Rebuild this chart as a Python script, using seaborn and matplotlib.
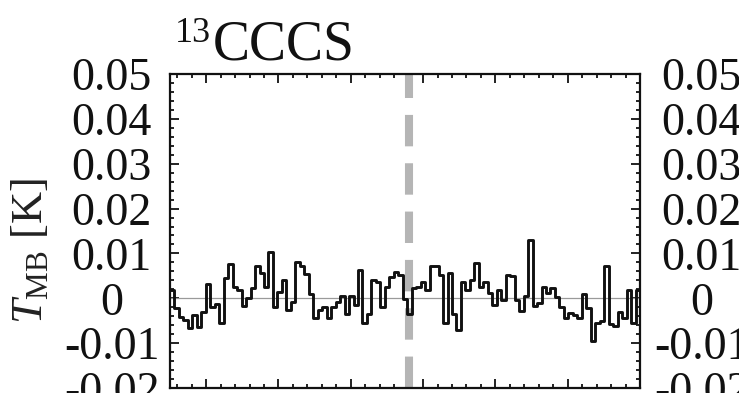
import numpy as np
import pandas as pd
import matplotlib
matplotlib.use("Agg")
import matplotlib.pyplot as plt
import seaborn as sns
from matplotlib.ticker import MultipleLocator, FixedLocator, FixedFormatter

# ---------------- data ----------------
# antenna temperature per channel [K] (left to right)
t_mb = [0.0019, -0.0022, -0.0041, -0.0049, -0.0067, -0.0037, -0.0063, -0.0030,
        0.0032, -0.0019, -0.0013, -0.0054, 0.0045, 0.0077, 0.0026, 0.0019,
        -0.0017, 0.0000, 0.0022, 0.0071, 0.0056, 0.0026, 0.0103, -0.0019,
        0.0013, 0.0041, -0.0026, -0.0009, 0.0081, 0.0071, 0.0054, 0.0009,
        -0.0043, -0.0025, -0.0019, -0.0043, -0.0019, -0.0009, 0.0004, -0.0035,
        0.0005, -0.0015, 0.0063, -0.0054, -0.0034, 0.0041, 0.0037, -0.0019,
        0.0026, 0.0047, 0.0059, 0.0052, -0.0002, -0.0035, 0.0022, 0.0026,
        0.0036, 0.0019, 0.0071, 0.0071, 0.0052, -0.0056, 0.0056, -0.0034,
        -0.0071, 0.0037, 0.0019, 0.0041, 0.0078, 0.0026, 0.0037, 0.0011,
        -0.0015, 0.0019, -0.0004, 0.0052, 0.0049, -0.0004, -0.0028, 0.0004,
        0.0131, -0.0017, -0.0010, 0.0026, 0.0011, 0.0022, 0.0002, -0.0019,
        -0.0045, -0.0032, -0.0037, -0.0045, 0.0009, -0.0022, -0.0096, -0.0054,
        -0.0051, 0.0071, -0.0057, -0.0061, -0.0031, -0.0045, 0.0019, -0.0056,
        0.0019]
v_start = -25.0          # velocity of the first channel edge
v_end = 40.0             # velocity of the last channel edge
v_line = 8.0             # systemic velocity marker
y_ticks = [-0.02, -0.01, 0.0, 0.01, 0.02, 0.03, 0.04, 0.05]
y_tick_labels = ["-0.02", "-0.01", "0", "0.01", "0.02", "0.03", "0.04", "0.05"]
title_iso = "13"
title_mol = "CCCS"

# ---------------- style ----------------
sns.set_theme(style="white")
plt.rcParams["font.family"] = ["Liberation Serif", "DejaVu Serif"]
plt.rcParams["mathtext.fontset"] = "custom"
plt.rcParams["mathtext.rm"] = "Liberation Serif"
plt.rcParams["mathtext.it"] = "Liberation Serif:italic"
plt.rcParams["axes.unicode_minus"] = False

W, H, DPI = 739, 393, 100
fig = plt.figure(figsize=(W / DPI, H / DPI), dpi=DPI)

def px2fig(x0, y0, x1, y1):
    return [x0 / W, 1 - y1 / H, (x1 - x0) / W, (y1 - y0) / H]

ax = fig.add_axes(px2fig(170, 74, 640, 388))

n = len(t_mb)
dv = (v_end - v_start) / n
edges = v_start + dv * np.arange(n + 1)
df = pd.DataFrame({"v": edges, "T": list(t_mb) + [t_mb[-1]]})

ax.axhline(0, color="#9a9a9a", lw=0.9, zorder=1)
ax.axvline(v_line, color="#b5b5b5", lw=5.8, dashes=(3.9, 2.1),
           solid_capstyle="butt", dash_capstyle="butt", zorder=2)
sns.lineplot(data=df, x="v", y="T", ax=ax, drawstyle="steps-post",
             color="#111111", lw=2.1, estimator=None, sort=False, zorder=3)

ax.set_xlim(v_start, v_end)
ax.set_ylim(-0.02, 0.05)
ax.xaxis.set_major_locator(MultipleLocator(10))
ax.xaxis.set_minor_locator(MultipleLocator(2))
ax.yaxis.set_major_locator(FixedLocator(y_ticks))
ax.yaxis.set_major_formatter(FixedFormatter(y_tick_labels))
ax.yaxis.set_minor_locator(MultipleLocator(0.002))
ax.set_xlabel("")
ax.set_ylabel("")
for s in ax.spines.values():
    s.set_visible(True)
    s.set_color("#111111")
    s.set_linewidth(1.6)
ax.tick_params(which="both", direction="in", top=True, right=True,
               bottom=True, left=True, color="#111111", width=1.3,
               labelbottom=False, labeltop=False)
ax.tick_params(which="major", length=6.5)
ax.tick_params(which="minor", length=3.2)
ax.tick_params(axis="y", which="major", labelsize=33, pad=42, labelcolor="#111111")
for lab in ax.get_yticklabels():
    lab.set_horizontalalignment("center")

# neighbouring panel (only its tick labels fall inside the picture)
ax2 = fig.add_axes(px2fig(760, 74, 1100, 388))
ax2.set_ylim(-0.02, 0.05)
ax2.yaxis.set_major_locator(FixedLocator(y_ticks))
ax2.yaxis.set_major_formatter(FixedFormatter(y_tick_labels))
ax2.set_xticks([])
ax2.tick_params(axis="y", which="major", labelsize=33, pad=42, direction="in",
                labelcolor="#111111")
for lab in ax2.get_yticklabels():
    lab.set_horizontalalignment("center")

# title and y label
fig.text(175 / W, 1 - 42 / H, title_iso, fontsize=26, ha="left", va="baseline",
         color="#111111")
fig.text(213 / W, 1 - 60 / H, title_mol, fontsize=40, ha="left", va="baseline",
         color="#111111")
fig.text(30 / W, 1 - 251 / H, r"$T_{\rm MB}$ [K]", fontsize=32, rotation=90,
         ha="center", va="center", color="#222222")

fig.savefig("out.png", dpi=DPI)
